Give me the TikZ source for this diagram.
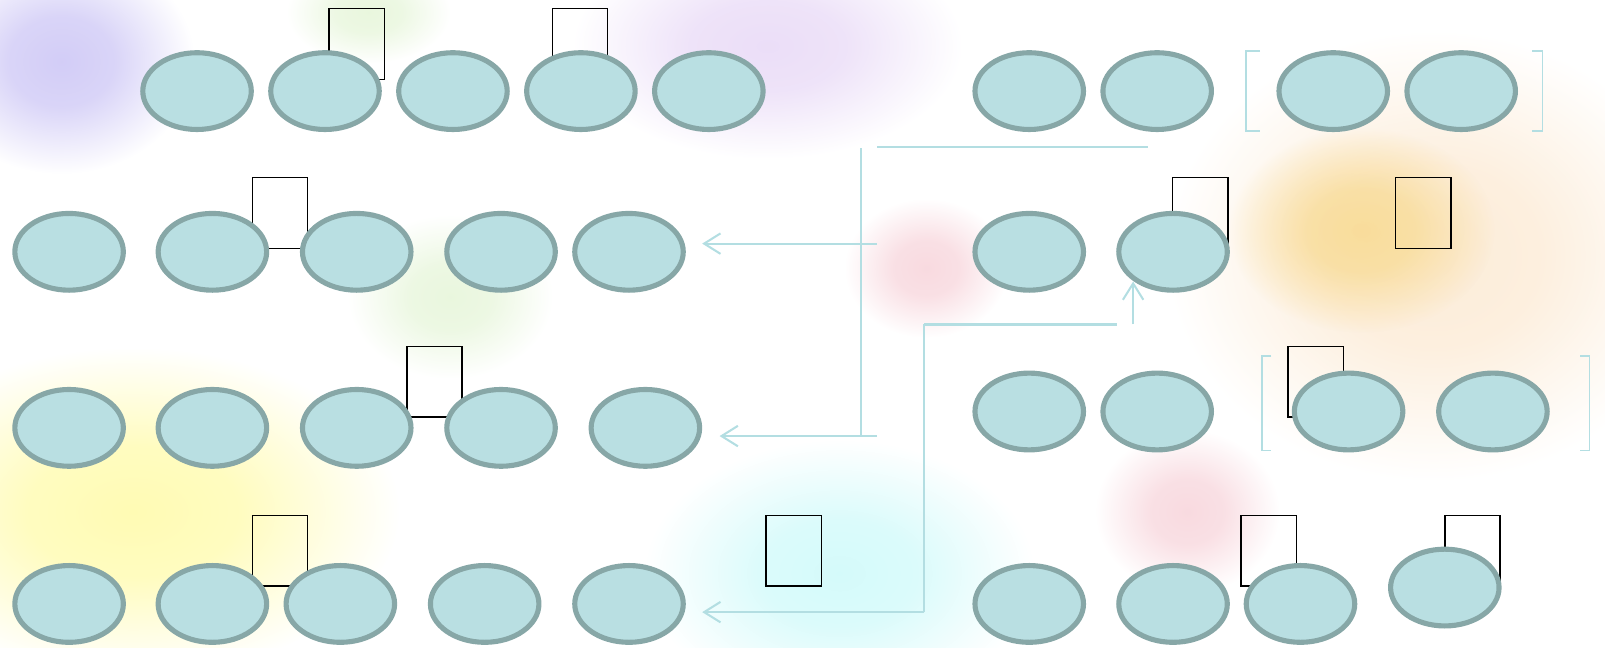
\documentclass[tikz,border=0pt]{standalone}
\usepackage{tikz}
\usetikzlibrary{arrows.meta}
\usetikzlibrary{shapes.geometric}
\usetikzlibrary{fadings}

\definecolor{beadfill}{HTML}{B9DFE2}
\definecolor{beadline}{HTML}{87A7A7}
\definecolor{linkblue}{HTML}{B3DEE2}
\definecolor{washpurple}{HTML}{D0CAF6}
\definecolor{washlilac}{HTML}{EADCF7}
\definecolor{washgreen}{HTML}{E8F6DC}
\definecolor{washyellow}{HTML}{FFFBB0}
\definecolor{washcyan}{HTML}{D2FAFA}
\definecolor{washpink}{HTML}{F8D8DE}
\definecolor{washorange}{HTML}{F9DC98}
\definecolor{washpeach}{HTML}{FCEBD6}
\pgfdeclareradialshading{softdisc}{\pgfpoint{0bp}{0bp}}{color(0bp)=(pgftransparent!5); color(10bp)=(pgftransparent!20); color(25bp)=(pgftransparent!100); color(50bp)=(pgftransparent!100)}
\pgfdeclarefading{blobfade}{\pgfuseshading{softdisc}}

\begin{document}
\begin{tikzpicture}[x=0.5pt,y=-0.5pt,>={Straight Barb[length=8pt,width=10pt]},
	bead/.style={ellipse,draw=beadline,fill=beadfill,line width=2.5pt,minimum width=53pt,minimum height=37.5pt,inner sep=0pt},
	tag/.style={rectangle,draw,line width=0.7pt,minimum width=27pt,minimum height=34.5pt,inner sep=0pt},
	link/.style={draw=linkblue,line width=1pt}]
	\useasboundingbox (0,0) rectangle (1568,633);
	% watercolour wash
	\begin{scope}
		\clip (0,0) rectangle (1568,633);
		\fill[washpeach, path fading=blobfade] (1400,250) ellipse (130pt and 110pt);
		\fill[washorange, path fading=blobfade] (1330,225) ellipse (65pt and 50pt);
		\fill[washpurple, path fading=blobfade] (60,60) ellipse (65pt and 55pt);
		\fill[washlilac, path fading=blobfade] (750,45) ellipse (95pt and 55pt);
		\fill[washgreen, path fading=blobfade] (360,12) ellipse (40pt and 25pt);
		\fill[washgreen, path fading=blobfade] (440,290) ellipse (50pt and 40pt);
		\fill[washyellow, path fading=blobfade] (130,500) ellipse (130pt and 80pt);
		\fill[washcyan, path fading=blobfade] (820,560) ellipse (95pt and 65pt);
		\fill[washpink, path fading=blobfade] (905,262) ellipse (40pt and 34pt);
		\fill[washpink, path fading=blobfade] (1160,500) ellipse (45pt and 40pt);
	\end{scope}

	% tags behind the beads
	\node[tag] (A) at (348.5,43) {};
	\node[tag] (B) at (566.5,43) {};
	\node[tag] (C) at (273.5,208) {};
	\node[tag] (D) at (424.5,373) {};
	\node[tag] (E) at (273.5,538) {};
	\node[tag] (F) at (775.5,538) {};
	\node[tag] (G) at (1172.5,208) {};
	\node[tag] (H) at (1390.5,208) {};
	\node[tag] (I) at (1285.5,373) {};
	\node[tag] (J) at (1239.5,538) {};
	\node[tag] (K) at (1438.5,538) {};

	% left rows
	\node[bead] (11) at (192.5,89) {};
	\node[bead] (12) at (317.5,89) {};
	\node[bead] (13) at (442.5,89) {};
	\node[bead] (14) at (567.5,89) {};
	\node[bead] (15) at (692.5,89) {};
	\node[bead] (21) at (67.5,246) {};
	\node[bead] (22) at (207.5,246) {};
	\node[bead] (23) at (348.5,246) {};
	\node[bead] (24) at (489.5,246) {};
	\node[bead] (25) at (614.5,246) {};
	\node[bead] (31) at (67.5,418) {};
	\node[bead] (32) at (207.5,418) {};
	\node[bead] (33) at (348.5,418) {};
	\node[bead] (34) at (489.5,418) {};
	\node[bead] (35) at (630.5,418) {};
	\node[bead] (41) at (67.5,590) {};
	\node[bead] (42) at (207.5,590) {};
	\node[bead] (43) at (332.5,590) {};
	\node[bead] (44) at (473.5,590) {};
	\node[bead] (45) at (614.5,590) {};

	% right rows
	\node[bead] (r11) at (1005.5,89) {};
	\node[bead] (r12) at (1130.5,89) {};
	\node[bead] (r13) at (1302.5,89) {};
	\node[bead] (r14) at (1427.5,89) {};
	\node[bead] (r21) at (1005.5,246) {};
	\node[bead] (r22) at (1146,246) {};
	\node[bead] (r31) at (1005.5,402) {};
	\node[bead] (r32) at (1130.5,402) {};
	\node[bead] (r33) at (1317.5,402) {};
	\node[bead] (r34) at (1458.5,402) {};
	\node[bead] (r41) at (1005.5,590) {};
	\node[bead] (r42) at (1146,590) {};
	\node[bead] (r43) at (1270.5,590) {};
	\node[bead] (r44) at (1411.5,574) {};

	% brackets
	\draw[linkblue,line width=0.8pt] (1231,50) -| (1217,128) -- (1231,128);
	\draw[linkblue,line width=0.8pt] (1497,50) -| (1507,128) -- (1497,128);
	\draw[linkblue,line width=0.8pt] (1242,348) -| (1233,440) -- (1242,440);
	\draw[linkblue,line width=0.8pt] (1544,348) -| (1553,440) -- (1544,440);

	% connectors
	\coordinate (v1) at (841,145);
	\coordinate (v2) at (841,426);
	\coordinate (t1) at (857,144);
	\coordinate (t2) at (1122,144);
	\coordinate (a1) at (857,238);
	\coordinate (b1) at (686,238);
	\coordinate (a2) at (857,426);
	\coordinate (b2) at (703,426);
	\coordinate (v3) at (903,317);
	\coordinate (a3) at (903,598);
	\coordinate (b3) at (686,598);
	\coordinate (h2) at (1091,317);
	\coordinate (a4) at (1107,317);
	\coordinate (b4) at (1107,275);
	\path[link] (v1) edge (v2)
		(t1) edge (t2)
		(a1) edge[->] (b1)
		(a2) edge[->] (b2)
		(v3) edge (a3)
			edge (h2)
		(a3) edge[->] (b3)
		(a4) edge[->] (b4);
\end{tikzpicture}
\end{document}
